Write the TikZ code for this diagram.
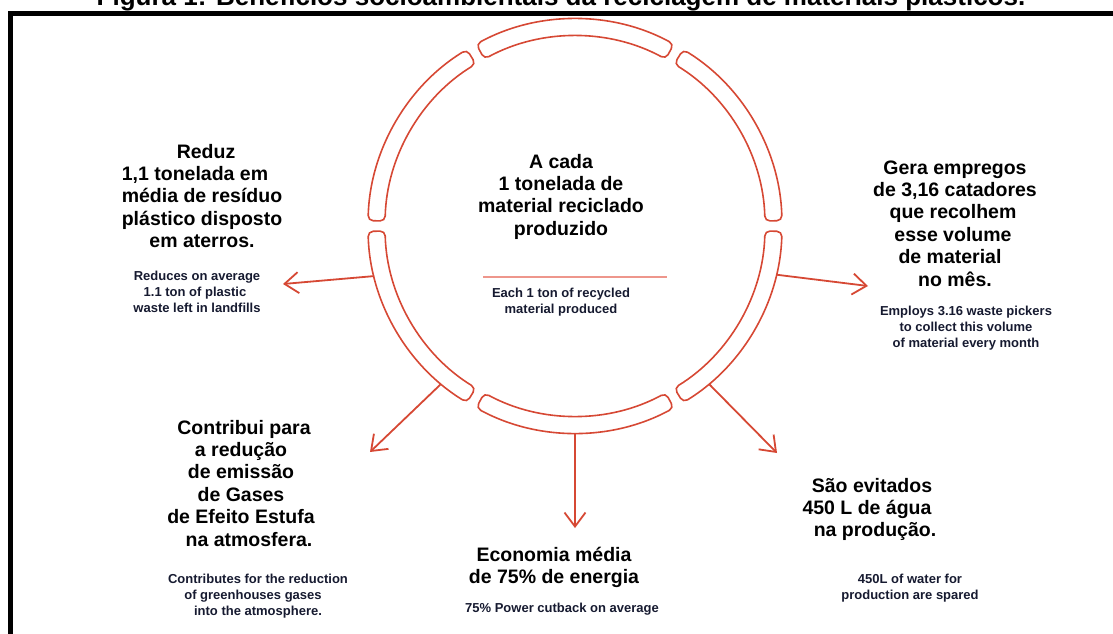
\documentclass[tikz,border=0pt]{standalone}
\usepackage{fontspec}
\setmainfont{Liberation Sans}
\usetikzlibrary{arrows.meta}
\definecolor{ringred}{RGB}{214,72,52}
\definecolor{seppink}{RGB}{238,150,140}
\definecolor{navy}{RGB}{22,26,48}
\newcommand\tlines[1]{\begin{tabular}[t]{@{}c@{}}#1\end{tabular}}
\tikzset{
  seg/.style={draw=ringred, line width=1.6pt, rounded corners=5pt},
  arr/.style={draw=ringred, line width=1.8pt, -{Straight Barb[length=14pt,width=21pt]}},
  bigtxt/.style={font=\bfseries\fontsize{19.5}{22.4}\selectfont, inner sep=0pt, anchor=base, text=black},
  smalltxt/.style={font=\bfseries\fontsize{13}{16}\selectfont, inner sep=0pt, anchor=base, text=navy},
}
\begin{document}
\begin{tikzpicture}[x=1pt,y=-1pt]
\useasboundingbox (0,0) rectangle (1113,633);
% title and frame
\node[font=\bfseries\fontsize{26}{30}\selectfont, anchor=base, inner sep=0pt] (title) at (561,5.5) {Figura 1: Benefícios socioambientais da reciclagem de materiais plásticos.};
\draw[line width=5pt] (10.5,660) -- (10.5,13.5) -- (1140,13.5);
% ring
\coordinate (c) at (575,226);
\begin{scope}[shift={(575,226)}]
  \foreach \m in {30,90,150,210,270,330}{
    \pgfmathsetmacro\aa{\m-28.5}
    \pgfmathsetmacro\bb{\m+28.5}
    \draw[seg] (\aa:207) arc[start angle=\aa, end angle=\bb, radius=207]
      -- (\bb:190) arc[start angle=\bb, end angle=\aa, radius=190] -- cycle;
  }
  \coordinate (sL) at (166:207);
  \coordinate (sR) at (13.6:207);
  \coordinate (sLL) at (130.3:207);
  \coordinate (sB) at (90:207);
  \coordinate (sLR) at (49.7:207);
\end{scope}
\coordinate (tL) at (283,284);
\coordinate (tR) at (868,286);
\coordinate (tLL) at (370,452);
\coordinate (tB) at (575,528);
\coordinate (tLR) at (777,453);
\draw[arr] (sL) -- (tL);
\draw[arr] (sR) -- (tR);
\draw[arr] (sLL) -- (tLL);
\draw[arr] (sB) -- (tB);
\draw[arr] (sLR) -- (tLR);
% separator
\coordinate (sepA) at (483,277);
\coordinate (sepB) at (667,277);
\draw[seppink, line width=2pt] (sepA) -- (sepB);
% texts
\node[bigtxt] (center) at (561,168) {\tlines{A cada\\1 tonelada de\\material reciclado\\produzido}};
\node[smalltxt] (centerEn) at (561,297.5) {\tlines{Each 1 ton of recycled\\material produced}};

\node[bigtxt] (left) at (202,158) {\tlines{\hspace*{8pt}Reduz\\1,1 tonelada em\hspace*{14pt}\\média de resíduo\\plástico disposto\\em aterros.}};
\node[smalltxt] (leftEn) at (197,280.5) {\tlines{Reduces on average\\1.1 ton of plastic\hspace*{4pt}\\waste left in landfills}};

\node[bigtxt] (right) at (955,174) {\tlines{Gera empregos\\de 3,16 catadores\\que recolhem\hspace*{4pt}\\esse volume\hspace*{4pt}\\de material\hspace*{10pt}\\no mês.}};
\node[smalltxt] (rightEn) at (966,315.5) {\tlines{Employs 3.16 waste pickers\\to collect this volume\\of material every month}};

\node[bigtxt] (lowleft) at (241,434) {\tlines{\hspace*{6pt}Contribui para\\a redução\\de emissão\\de Gases\\de Efeito Estufa\\\hspace*{16pt}na atmosfera.}};
\node[smalltxt] (lowleftEn) at (258,583.5) {\tlines{Contributes for the reduction\\of greenhouses gases\hspace*{10pt}\\into the atmosphere.}};

\node[bigtxt] (bottom) at (554,561) {\tlines{Economia média\\de 75\% de energia}};
\node[smalltxt] (bottomEn) at (562,612.5) {\tlines{75\% Power cutback on average}};

\node[bigtxt] (lowright) at (867,492) {\tlines{\hspace*{10pt}São evitados\\450 L de água\\\hspace*{16pt}na produção.}};
\node[smalltxt] (lowrightEn) at (910,583.5) {\tlines{450L of water for\\production are spared}};
\end{tikzpicture}
\end{document}
